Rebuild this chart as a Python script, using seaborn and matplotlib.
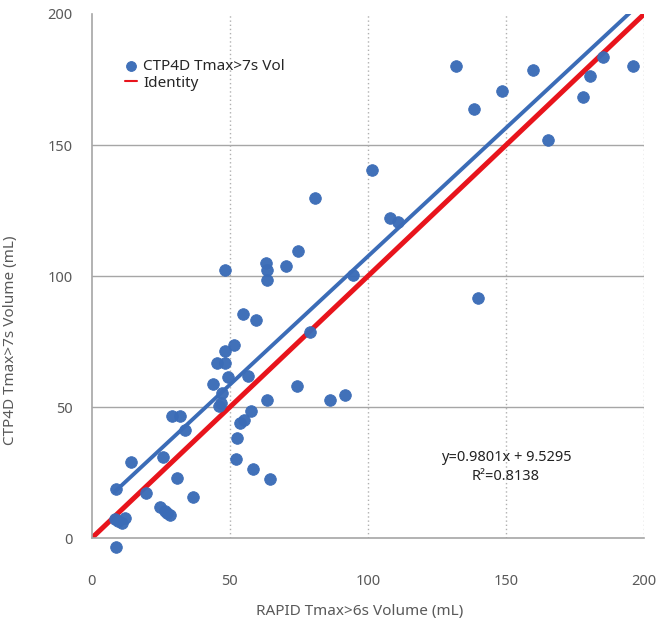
import numpy as np
import pandas as pd
import matplotlib
matplotlib.use("Agg")
import matplotlib.pyplot as plt
import seaborn as sns

# ---- data ----
rapid_x = [131.7, 138.4, 148.5, 159.7, 165.0, 178.0, 180.4, 185.2, 195.8, 101.5,
           80.9, 108.0, 111.0, 140.0, 94.7, 74.6, 70.3, 63.2, 63.3, 63.3,
           48.2, 54.8, 59.6, 79.0, 51.6, 48.1, 45.2, 48.2, 49.4, 56.6,
           43.9, 47.0, 46.2, 46.8, 74.2, 86.2, 91.5, 63.3, 57.7, 55.2,
           53.7, 52.7, 52.1, 58.5, 64.6, 28.9, 31.9, 33.7, 25.8, 14.0,
           30.7, 19.5, 36.7, 8.6, 8.3, 10.8, 12.0, 9.5, 24.6, 26.4,
           28.3, 8.6, 27.3]
ctp4d_y = [180.0, 163.7, 170.8, 178.5, 151.8, 168.5, 176.3, 183.5, 180.0, 140.5,
           129.8, 122.0, 120.8, 91.7, 100.4, 109.4, 103.8, 105.0, 102.3, 98.3,
           102.3, 85.5, 83.4, 78.5, 73.6, 71.5, 66.7, 66.7, 61.6, 61.8,
           58.6, 55.4, 50.3, 51.5, 58.0, 52.5, 54.4, 52.5, 48.3, 45.0,
           44.0, 38.3, 30.0, 26.3, 22.7, 46.7, 46.7, 41.2, 30.8, 29.1,
           22.8, 17.1, 15.8, 18.6, 7.3, 5.6, 7.5, 6.5, 12.0, 10.3,
           8.8, -3.3, 9.5]
slope = 0.9801
intercept = 9.5295
r_squared = 0.8138
identity_x = [0, 200]
x_ticks = [0, 50, 100, 150, 200]
y_ticks = [0, 50, 100, 150, 200]

df = pd.DataFrame({"x": rapid_x, "y": ctp4d_y})
trend_x = np.array([min(rapid_x), max(rapid_x)])
trend_y = slope * trend_x + intercept

sns.set_style("white")
plt.rcParams["font.family"] = ["Noto Sans", "DejaVu Sans"]

blue = "#3b6cb7"
red = "#e8141c"
gray_txt = "#595959"

fig = plt.figure(figsize=(6.56, 6.22), dpi=100)
ax = fig.add_axes([0.140, 0.135, 0.842, 0.8425])

sns.lineplot(x=identity_x, y=identity_x, ax=ax, color=red, linewidth=3.6,
             label="Identity", zorder=2)
sns.lineplot(x=trend_x, y=trend_y, ax=ax, color=blue, linewidth=2.8,
             label="_trend", zorder=2)
sns.scatterplot(data=df, x="x", y="y", ax=ax, color=blue, s=70, edgecolor=blue,
                linewidth=0.6, alpha=0.97, label="CTP4D Tmax>7s Vol", zorder=3,
                clip_on=False)

ax.set_xlim(0, 200)
ax.set_ylim(0, 200)
ax.set_xticks(x_ticks)
ax.set_yticks(y_ticks)
ax.tick_params(axis="both", length=0, labelsize=10.5, labelcolor=gray_txt)
ax.tick_params(axis="y", pad=14)
ax.tick_params(axis="x", pad=26)

# gridlines
for yv in y_ticks[1:-1]:
    ax.axhline(yv, color="#a6a6a6", linewidth=1.0, zorder=0)
for xv in x_ticks[1:]:
    ax.axvline(xv, color="#b0b0b0", linewidth=1.0, linestyle=(0, (1, 2)), zorder=0)

for side in ["top", "right"]:
    ax.spines[side].set_visible(False)
for side in ["left", "bottom"]:
    ax.spines[side].set_color("#a6a6a6")
    ax.spines[side].set_linewidth(1.2)

ax.set_xlabel("RAPID Tmax>6s Volume (mL)", fontsize=11, color=gray_txt)
ax.set_ylabel("CTP4D Tmax>7s Volume (mL)", fontsize=11, color=gray_txt)
ax.xaxis.set_label_coords(0.485, -0.125)
ax.yaxis.set_label_coords(-0.134, 0.378)

handles, labels = ax.get_legend_handles_labels()
order = [labels.index("CTP4D Tmax>7s Vol"), labels.index("Identity")]
leg = ax.legend([handles[i] for i in order], [labels[i] for i in order],
                loc="upper left", bbox_to_anchor=(0.035, 0.94), frameon=False,
                fontsize=11, handlelength=0.8, handletextpad=0.4,
                labelspacing=0.1, markerscale=0.85)
for line in leg.get_lines():
    line.set_linewidth(1.5)

ax.text(150, 30.9, f"y={slope}x + {intercept}", ha="center", va="center",
        fontsize=10.5, color="#222222")
ax.text(150, 23.6, f"R\u00b2={r_squared}", ha="center", va="center",
        fontsize=10.5, color="#222222")

fig.savefig("out.png", dpi=100)
